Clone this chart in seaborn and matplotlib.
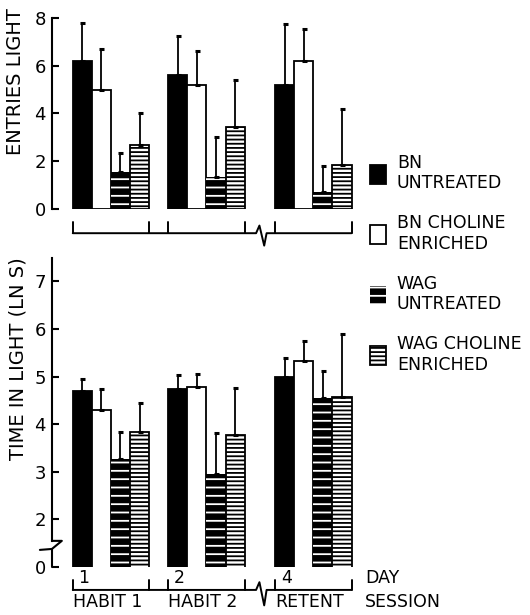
import numpy as np
import pandas as pd
import matplotlib
matplotlib.use("Agg")
import matplotlib.pyplot as plt
import matplotlib.patches as mpatches
import matplotlib.transforms as mtransforms
import seaborn as sns

# data (mean and SEM, upward error bars only)
sessions = ["HABIT 1", "HABIT 2", "RETENT"]
days = ["1", "2", "4"]
groups = ["BN\nUNTREATED", "BN CHOLINE\nENRICHED", "WAG\nUNTREATED", "WAG CHOLINE\nENRICHED"]

entries_bn = [6.2, 5.6, 5.2]
entries_bn_chol = [5.0, 5.2, 6.2]
entries_wag = [1.55, 1.35, 0.7]
entries_wag_chol = [2.7, 3.45, 1.85]
entries_bn_sem = [1.6, 1.65, 2.55]
entries_bn_chol_sem = [1.7, 1.4, 1.33]
entries_wag_sem = [0.8, 1.65, 1.12]
entries_wag_chol_sem = [1.3, 1.95, 2.35]

time_bn = [4.7, 4.75, 5.0]
time_bn_chol = [4.3, 4.78, 5.32]
time_wag = [3.27, 2.95, 4.55]
time_wag_chol = [3.83, 3.77, 4.58]
time_bn_sem = [0.25, 0.28, 0.4]
time_bn_chol_sem = [0.44, 0.28, 0.42]
time_wag_sem = [0.56, 0.87, 0.57]
time_wag_chol_sem = [0.61, 0.99, 1.32]

# extra room on the x axis for the break between day 2 and day 4
break_gap = 0.12
pos = np.arange(len(sessions)) + np.array([0, 0, 1]) * break_gap


def long_table(means, sems):
    rows = []
    for g, m, s in zip(groups, means, sems):
        for i in range(len(sessions)):
            rows.append({"pos": pos[i], "group": g, "value": m[i], "sem": s[i]})
    return pd.DataFrame(rows)


entries = long_table([entries_bn, entries_bn_chol, entries_wag, entries_wag_chol],
                     [entries_bn_sem, entries_bn_chol_sem, entries_wag_sem, entries_wag_chol_sem])
timel = long_table([time_bn, time_bn_chol, time_wag, time_wag_chol],
                   [time_bn_sem, time_bn_chol_sem, time_wag_sem, time_wag_chol_sem])

sns.set_style("white")
plt.rcParams["font.family"] = ["DejaVu Sans"]
plt.rcParams["hatch.linewidth"] = 1.3
plt.rcParams["text.color"] = "black"
plt.rcParams["axes.labelcolor"] = "black"
plt.rcParams["ytick.color"] = "black"
plt.rcParams["xtick.color"] = "black"

styles = [
    dict(facecolor="black", edgecolor="black", hatch=None, linewidth=1.3),
    dict(facecolor="white", edgecolor="black", hatch=None, linewidth=1.3),
    dict(facecolor="black", edgecolor="white", hatch="--", linewidth=0),
    dict(facecolor="white", edgecolor="black", hatch="----", linewidth=1.3),
]

fig = plt.figure(figsize=(5.3, 6.15), dpi=100)
ax1 = fig.add_axes([0.098, 0.660, 0.583, 0.311])
ax2 = fig.add_axes([0.098, 0.078, 0.583, 0.503])


def draw_panel(ax, df):
    sns.barplot(data=df, x="pos", y="value", hue="group", hue_order=groups,
                native_scale=True, width=0.8, gap=0, legend=False, errorbar=None,
                palette=["black", "white", "black", "white"], saturation=1,
                edgecolor="black", linewidth=1.3, ax=ax)
    for cont, st, g in zip(ax.containers, styles, groups):
        sub = df[df["group"] == g]
        xs = []
        for p in cont:
            p.set_facecolor(st["facecolor"])
            p.set_edgecolor(st["edgecolor"])
            p.set_linewidth(st["linewidth"])
            if st["hatch"]:
                p.set_hatch(st["hatch"])
            xs.append(p.get_x() + p.get_width() / 2)
        ax.errorbar(xs, sub["value"], yerr=[np.zeros(len(sub)), sub["sem"]],
                    fmt="none", ecolor="black", elinewidth=1.3, capsize=1.8,
                    capthick=2.2, zorder=1)
    ax.set_xlim(pos[0] - 0.618, pos[0] + 2.618)
    ax.set_xticks([])
    ax.set_xlabel("")
    sns.despine(ax=ax, bottom=True)
    ax.spines["left"].set_linewidth(1.5)
    ax.spines["left"].set_color("black")
    ax.tick_params(axis="y", direction="in", length=5, width=1.5, labelsize=13,
                   pad=4.5, left=True, colors="black")


def draw_bracket(ax, base, top, depth, dip):
    tr = mtransforms.blended_transform_factory(ax.transData, ax.transAxes)
    lefts = pos - 0.4
    rights = pos + 0.4
    zx = rights[1] + 0.12
    xs = [lefts[0], rights[1], zx, zx + 0.035, zx + 0.085, zx + 0.11, rights[2]]
    ys = [base, base, base, base + dip, base - depth, base, base]
    ax.plot(xs, ys, color="black", lw=1.4, transform=tr, clip_on=False)
    for x in list(lefts) + list(rights):
        ax.plot([x, x], [base, top], color="black", lw=1.4, transform=tr, clip_on=False)


draw_panel(ax1, entries)
ax1.set_ylim(0, 8)
ax1.set_yticks([0, 2, 4, 6, 8])
ax1.set_ylabel("ENTRIES LIGHT", fontsize=14)
ax1.yaxis.set_label_coords(-0.087, 0.665)
draw_bracket(ax1, -0.126, -0.068, 0.065, 0.04)

draw_panel(ax2, timel)
# broken axis: the zero sits one unit below 2
ax2.set_ylim(1, 7.5)
ax2.set_yticks([1, 2, 3, 4, 5, 6, 7])
ax2.set_yticklabels(["0", "2", "3", "4", "5", "6", "7"])
ax2.set_ylabel("TIME IN LIGHT (LN S)", fontsize=14)
ax2.yaxis.set_label_coords(-0.078, 0.675)
ax2.spines["left"].set_bounds(1.55, 7.5)
ty = mtransforms.blended_transform_factory(ax2.transAxes, ax2.transData)
ax2.plot([0, 0], [1, 1.38], color="black", lw=1.5, transform=ty, clip_on=False)
ax2.plot([-0.039, 0, 0.032, 0], [1.36, 1.38, 1.55, 1.55], color="black", lw=1.5,
         transform=ty, clip_on=False)
draw_bracket(ax2, -0.074, -0.042, 0.05, 0.025)

tr2 = mtransforms.blended_transform_factory(ax2.transData, ax2.transAxes)
for x, d, s in zip(pos - 0.4, days, sessions):
    ax2.text(x + 0.06, -0.066, d, transform=tr2, ha="left", va="bottom", fontsize=12.5)
    ax2.text(x, -0.083, s, transform=tr2, ha="left", va="top", fontsize=12.5)
ax2.text(1.013, -0.066, "DAY", transform=ax2.transAxes, ha="left", va="bottom", fontsize=12.5)
ax2.text(1.013, -0.083, "SESSION", transform=ax2.transAxes, ha="left", va="top", fontsize=12.5)

handles = [mpatches.Patch(**st) for st in styles]
fig.legend(handles, groups, loc="center left", bbox_to_anchor=(0.698, 0.571),
           frameon=False, fontsize=12.5, handlelength=0.95, handleheight=1.3,
           handletextpad=0.6, labelspacing=1.25, borderpad=0, borderaxespad=0,
           labelcolor="black")

fig.savefig("out.png", dpi=100)
